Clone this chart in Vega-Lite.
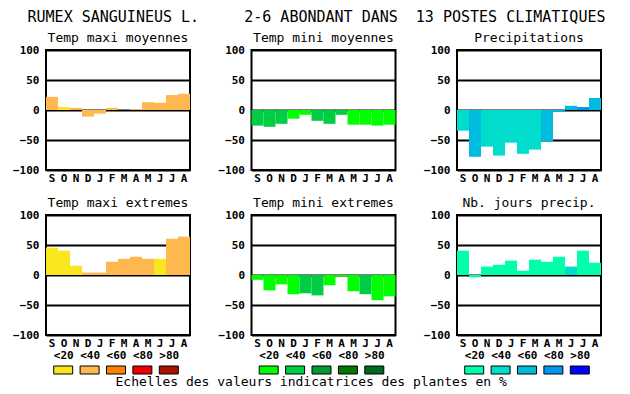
{
  "$schema": "https://vega.github.io/schema/vega-lite/v6.json",
  "padding": {"left": 11, "top": 10, "right": 5, "bottom": 2},
  "background": "white",
  "config": {
    "font": "DejaVu Sans Mono",
    "view": {"stroke": "black", "strokeWidth": 2},
    "axis": {"labelFont": "DejaVu Sans Mono", "labelFontSize": 11, "labelFontWeight": "bold", "labelColor": "black", "ticks": false, "domain": false, "grid": false, "titleFont": "DejaVu Sans Mono", "titleFontWeight": "normal", "titleColor": "black"},
    "axisX": {"labelAngle": 0, "labelPadding": 2},
    "axisY": {"grid": true, "gridColor": "black", "gridWidth": 2, "gridOpacity": 1, "labelPadding": 7, "zindex": 1},
    "title": {"font": "DejaVu Sans Mono", "fontSize": 13, "fontWeight": "normal", "color": "black", "anchor": "middle", "frame": "group", "offset": -1}
  },
  "datasets": {
    "bars": [
      {"p": "p1", "m": "Sep", "v": 22, "c": "T40"}, {"p": "p1", "m": "Oct", "v": 5, "c": "T20"}, {"p": "p1", "m": "Nov", "v": 3.5, "c": "T40"}, {"p": "p1", "m": "Dec", "v": -11, "c": "T40"}, {"p": "p1", "m": "Jan", "v": -6, "c": "T40"}, {"p": "p1", "m": "Feb", "v": 3.5, "c": "T40"}, {"p": "p1", "m": "Mar", "v": 0, "c": "T40"}, {"p": "p1", "m": "Apr", "v": 1.7, "c": "T40"}, {"p": "p1", "m": "May", "v": 13, "c": "T40"}, {"p": "p1", "m": "Jun", "v": 12, "c": "T40"}, {"p": "p1", "m": "Jul", "v": 25, "c": "T40"}, {"p": "p1", "m": "Aug", "v": 27, "c": "T40"},
      {"p": "p2", "m": "Sep", "v": -26, "c": "G40"}, {"p": "p2", "m": "Oct", "v": -28, "c": "G40"}, {"p": "p2", "m": "Nov", "v": -23, "c": "G40"}, {"p": "p2", "m": "Dec", "v": -14.5, "c": "G20"}, {"p": "p2", "m": "Jan", "v": -8, "c": "G20"}, {"p": "p2", "m": "Feb", "v": -18, "c": "G40"}, {"p": "p2", "m": "Mar", "v": -23, "c": "G40"}, {"p": "p2", "m": "Apr", "v": -8, "c": "G40"}, {"p": "p2", "m": "May", "v": -24.5, "c": "G20"}, {"p": "p2", "m": "Jun", "v": -24.5, "c": "G20"}, {"p": "p2", "m": "Jul", "v": -26, "c": "G20"}, {"p": "p2", "m": "Aug", "v": -24.5, "c": "G20"},
      {"p": "p3", "m": "Sep", "v": -34.5, "c": "B40"}, {"p": "p3", "m": "Oct", "v": -78, "c": "B60"}, {"p": "p3", "m": "Nov", "v": -61, "c": "B40"}, {"p": "p3", "m": "Dec", "v": -76, "c": "B40"}, {"p": "p3", "m": "Jan", "v": -54.5, "c": "B40"}, {"p": "p3", "m": "Feb", "v": -73, "c": "B40"}, {"p": "p3", "m": "Mar", "v": -66, "c": "B40"}, {"p": "p3", "m": "Apr", "v": -53, "c": "B60"}, {"p": "p3", "m": "May", "v": -3, "c": "B60"}, {"p": "p3", "m": "Jun", "v": 7, "c": "B60"}, {"p": "p3", "m": "Jul", "v": 5, "c": "B80"}, {"p": "p3", "m": "Aug", "v": 20, "c": "B60"},
      {"p": "p4", "m": "Sep", "v": 45.5, "c": "T20"}, {"p": "p4", "m": "Oct", "v": 40.5, "c": "T20"}, {"p": "p4", "m": "Nov", "v": 15.5, "c": "T20"}, {"p": "p4", "m": "Dec", "v": 4, "c": "T40"}, {"p": "p4", "m": "Jan", "v": 4, "c": "T40"}, {"p": "p4", "m": "Feb", "v": 22, "c": "T40"}, {"p": "p4", "m": "Mar", "v": 27, "c": "T40"}, {"p": "p4", "m": "Apr", "v": 30.5, "c": "T40"}, {"p": "p4", "m": "May", "v": 27, "c": "T40"}, {"p": "p4", "m": "Jun", "v": 27, "c": "T20"}, {"p": "p4", "m": "Jul", "v": 60.5, "c": "T40"}, {"p": "p4", "m": "Aug", "v": 64, "c": "T40"},
      {"p": "p5", "m": "Sep", "v": -8, "c": "G20"}, {"p": "p5", "m": "Oct", "v": -25.5, "c": "G20"}, {"p": "p5", "m": "Nov", "v": -15.5, "c": "G20"}, {"p": "p5", "m": "Dec", "v": -32, "c": "G20"}, {"p": "p5", "m": "Jan", "v": -30.5, "c": "G40"}, {"p": "p5", "m": "Feb", "v": -34, "c": "G40"}, {"p": "p5", "m": "Mar", "v": -17, "c": "G20"}, {"p": "p5", "m": "Apr", "v": -2.5, "c": "G20"}, {"p": "p5", "m": "May", "v": -27, "c": "G20"}, {"p": "p5", "m": "Jun", "v": -32, "c": "G40"}, {"p": "p5", "m": "Jul", "v": -42, "c": "G20"}, {"p": "p5", "m": "Aug", "v": -35.5, "c": "G20"},
      {"p": "p6", "m": "Sep", "v": 40.5, "c": "B20"}, {"p": "p6", "m": "Oct", "v": -4, "c": "B20"}, {"p": "p6", "m": "Nov", "v": 14, "c": "B20"}, {"p": "p6", "m": "Dec", "v": 17, "c": "B20"}, {"p": "p6", "m": "Jan", "v": 24, "c": "B20"}, {"p": "p6", "m": "Feb", "v": 7, "c": "B20"}, {"p": "p6", "m": "Mar", "v": 25.5, "c": "B20"}, {"p": "p6", "m": "Apr", "v": 22, "c": "B20"}, {"p": "p6", "m": "May", "v": 30.5, "c": "B20"}, {"p": "p6", "m": "Jun", "v": 14, "c": "B40"}, {"p": "p6", "m": "Jul", "v": 40.5, "c": "B20"}, {"p": "p6", "m": "Aug", "v": 20.5, "c": "B20"}
    ],
    "leg": [
      {"g": "T", "lab": "<20", "c": "T20"}, {"g": "T", "lab": "<40", "c": "T40"}, {"g": "T", "lab": "<60", "c": "T60"}, {"g": "T", "lab": "<80", "c": "T80"}, {"g": "T", "lab": ">80", "c": "T99"},
      {"g": "G", "lab": "<20", "c": "G20"}, {"g": "G", "lab": "<40", "c": "G40"}, {"g": "G", "lab": "<60", "c": "G60"}, {"g": "G", "lab": "<80", "c": "G80"}, {"g": "G", "lab": ">80", "c": "G99"},
      {"g": "B", "lab": "<20", "c": "B20"}, {"g": "B", "lab": "<40", "c": "B40"}, {"g": "B", "lab": "<60", "c": "B60"}, {"g": "B", "lab": "<80", "c": "B80"}, {"g": "B", "lab": ">80", "c": "B99"}
    ]
  },
  "title": {"text": "Echelles des valeurs indicatrices des plantes en %", "orient": "bottom", "anchor": "start", "frame": "bounds", "dx": 104, "offset": 1, "fontSize": 13, "fontWeight": "normal", "font": "DejaVu Sans Mono", "color": "black"},
  "vconcat": [
    {
      "title": {"text": "RUMEX SANGUINEUS L.\u00a0\u00a0\u00a0\u00a0\u00a02-6 ABONDANT DANS\u00a0\u00a013 POSTES CLIMATIQUES", "anchor": "start", "frame": "bounds", "dx": 16, "offset": 6, "fontSize": 15, "fontWeight": "normal", "font": "DejaVu Sans Mono", "color": "black"},
      "columns": 3,
      "align": "each",
      "spacing": {"row": 0, "column": 25.5},
      "concat": [
        {
          "width": 144, "height": 120, "title": "Temp maxi moyennes",
          "data": {"name": "bars"}, "transform": [{"filter": "datum.p === 'p1'"}],
          "mark": {"type": "bar"},
          "encoding": {
            "x": {"field": "m", "type": "ordinal", "sort": ["Sep","Oct","Nov","Dec","Jan","Feb","Mar","Apr","May","Jun","Jul","Aug"], "scale": {"paddingInner": 0, "paddingOuter": 0}, "axis": {"labelExpr": "substring(datum.label,0,1)", "title": "\u00a0", "titlePadding": 0.5, "titleFontSize": 11}},
            "y": {"field": "v", "type": "quantitative", "scale": {"domain": [-100, 100]}, "axis": {"values": [-100, -50, 0, 50, 100], "title": null}},
            "color": {"field": "c", "type": "nominal", "scale": {"domain": ["T20","T40","T60","T80","T99","G20","G40","G60","G80","G99","B20","B40","B60","B80","B99"], "range": ["#F8E71C","#FFB84D","#FF7F00","#EE0000","#AA1100","#00FF00","#00CC44","#009933","#007700","#006622","#00FFAA","#00DDCC","#00BBDD","#0099EE","#0000FF"]}, "legend": null}
          }
        },
        {
          "width": 144, "height": 120, "title": "Temp mini moyennes",
          "data": {"name": "bars"}, "transform": [{"filter": "datum.p === 'p2'"}],
          "mark": {"type": "bar"},
          "encoding": {
            "x": {"field": "m", "type": "ordinal", "sort": ["Sep","Oct","Nov","Dec","Jan","Feb","Mar","Apr","May","Jun","Jul","Aug"], "scale": {"paddingInner": 0, "paddingOuter": 0}, "axis": {"labelExpr": "substring(datum.label,0,1)", "title": "\u00a0", "titlePadding": 0.5, "titleFontSize": 11}},
            "y": {"field": "v", "type": "quantitative", "scale": {"domain": [-100, 100]}, "axis": {"values": [-100, -50, 0, 50, 100], "title": null}},
            "color": {"field": "c", "type": "nominal", "scale": {"domain": ["T20","T40","T60","T80","T99","G20","G40","G60","G80","G99","B20","B40","B60","B80","B99"], "range": ["#F8E71C","#FFB84D","#FF7F00","#EE0000","#AA1100","#00FF00","#00CC44","#009933","#007700","#006622","#00FFAA","#00DDCC","#00BBDD","#0099EE","#0000FF"]}, "legend": null}
          }
        },
        {
          "width": 144, "height": 120, "title": "Precipitations",
          "data": {"name": "bars"}, "transform": [{"filter": "datum.p === 'p3'"}],
          "mark": {"type": "bar"},
          "encoding": {
            "x": {"field": "m", "type": "ordinal", "sort": ["Sep","Oct","Nov","Dec","Jan","Feb","Mar","Apr","May","Jun","Jul","Aug"], "scale": {"paddingInner": 0, "paddingOuter": 0}, "axis": {"labelExpr": "substring(datum.label,0,1)", "title": "\u00a0", "titlePadding": 0.5, "titleFontSize": 11}},
            "y": {"field": "v", "type": "quantitative", "scale": {"domain": [-100, 100]}, "axis": {"values": [-100, -50, 0, 50, 100], "title": null}},
            "color": {"field": "c", "type": "nominal", "scale": {"domain": ["T20","T40","T60","T80","T99","G20","G40","G60","G80","G99","B20","B40","B60","B80","B99"], "range": ["#F8E71C","#FFB84D","#FF7F00","#EE0000","#AA1100","#00FF00","#00CC44","#009933","#007700","#006622","#00FFAA","#00DDCC","#00BBDD","#0099EE","#0000FF"]}, "legend": null}
          }
        },
        {
          "width": 144, "height": 120, "title": "Temp maxi extremes",
          "data": {"name": "bars"}, "transform": [{"filter": "datum.p === 'p4'"}],
          "mark": {"type": "bar"},
          "encoding": {
            "x": {"field": "m", "type": "ordinal", "sort": ["Sep","Oct","Nov","Dec","Jan","Feb","Mar","Apr","May","Jun","Jul","Aug"], "scale": {"paddingInner": 0, "paddingOuter": 0}, "axis": {"labelExpr": "substring(datum.label,0,1)", "title": null}},
            "y": {"field": "v", "type": "quantitative", "scale": {"domain": [-100, 100]}, "axis": {"values": [-100, -50, 0, 50, 100], "title": null}},
            "color": {"field": "c", "type": "nominal", "scale": {"domain": ["T20","T40","T60","T80","T99","G20","G40","G60","G80","G99","B20","B40","B60","B80","B99"], "range": ["#F8E71C","#FFB84D","#FF7F00","#EE0000","#AA1100","#00FF00","#00CC44","#009933","#007700","#006622","#00FFAA","#00DDCC","#00BBDD","#0099EE","#0000FF"]}, "legend": null}
          }
        },
        {
          "width": 144, "height": 120, "title": "Temp mini extremes",
          "data": {"name": "bars"}, "transform": [{"filter": "datum.p === 'p5'"}],
          "mark": {"type": "bar"},
          "encoding": {
            "x": {"field": "m", "type": "ordinal", "sort": ["Sep","Oct","Nov","Dec","Jan","Feb","Mar","Apr","May","Jun","Jul","Aug"], "scale": {"paddingInner": 0, "paddingOuter": 0}, "axis": {"labelExpr": "substring(datum.label,0,1)", "title": null}},
            "y": {"field": "v", "type": "quantitative", "scale": {"domain": [-100, 100]}, "axis": {"values": [-100, -50, 0, 50, 100], "title": null}},
            "color": {"field": "c", "type": "nominal", "scale": {"domain": ["T20","T40","T60","T80","T99","G20","G40","G60","G80","G99","B20","B40","B60","B80","B99"], "range": ["#F8E71C","#FFB84D","#FF7F00","#EE0000","#AA1100","#00FF00","#00CC44","#009933","#007700","#006622","#00FFAA","#00DDCC","#00BBDD","#0099EE","#0000FF"]}, "legend": null}
          }
        },
        {
          "width": 144, "height": 120, "title": "Nb. jours precip.",
          "data": {"name": "bars"}, "transform": [{"filter": "datum.p === 'p6'"}],
          "mark": {"type": "bar"},
          "encoding": {
            "x": {"field": "m", "type": "ordinal", "sort": ["Sep","Oct","Nov","Dec","Jan","Feb","Mar","Apr","May","Jun","Jul","Aug"], "scale": {"paddingInner": 0, "paddingOuter": 0}, "axis": {"labelExpr": "substring(datum.label,0,1)", "title": null}},
            "y": {"field": "v", "type": "quantitative", "scale": {"domain": [-100, 100]}, "axis": {"values": [-100, -50, 0, 50, 100], "title": null}},
            "color": {"field": "c", "type": "nominal", "scale": {"domain": ["T20","T40","T60","T80","T99","G20","G40","G60","G80","G99","B20","B40","B60","B80","B99"], "range": ["#F8E71C","#FFB84D","#FF7F00","#EE0000","#AA1100","#00FF00","#00CC44","#009933","#007700","#006622","#00FFAA","#00DDCC","#00BBDD","#0099EE","#0000FF"]}, "legend": null}
          }
        },
        {
          "width": 144, "height": 8, "view": {"stroke": null},
          "data": {"name": "leg"}, "transform": [{"filter": "datum.g === 'T'"}],
          "mark": {"type": "bar", "width": 19, "stroke": "black", "strokeWidth": 1},
          "encoding": {
            "x": {"field": "lab", "type": "nominal", "sort": ["<20","<40","<60","<80",">80"], "scale": {"type": "point", "range": [4, 136]}, "axis": {"orient": "top", "title": null, "labelPadding": 6}},
            "color": {"field": "c", "type": "nominal", "scale": {"domain": ["T20","T40","T60","T80","T99","G20","G40","G60","G80","G99","B20","B40","B60","B80","B99"], "range": ["#F8E71C","#FFB84D","#FF7F00","#EE0000","#AA1100","#00FF00","#00CC44","#009933","#007700","#006622","#00FFAA","#00DDCC","#00BBDD","#0099EE","#0000FF"]}, "legend": null}
          }
        },
        {
          "width": 144, "height": 8, "view": {"stroke": null},
          "data": {"name": "leg"}, "transform": [{"filter": "datum.g === 'G'"}],
          "mark": {"type": "bar", "width": 19, "stroke": "black", "strokeWidth": 1},
          "encoding": {
            "x": {"field": "lab", "type": "nominal", "sort": ["<20","<40","<60","<80",">80"], "scale": {"type": "point", "range": [4, 136]}, "axis": {"orient": "top", "title": null, "labelPadding": 6}},
            "color": {"field": "c", "type": "nominal", "scale": {"domain": ["T20","T40","T60","T80","T99","G20","G40","G60","G80","G99","B20","B40","B60","B80","B99"], "range": ["#F8E71C","#FFB84D","#FF7F00","#EE0000","#AA1100","#00FF00","#00CC44","#009933","#007700","#006622","#00FFAA","#00DDCC","#00BBDD","#0099EE","#0000FF"]}, "legend": null}
          }
        },
        {
          "width": 144, "height": 8, "view": {"stroke": null},
          "data": {"name": "leg"}, "transform": [{"filter": "datum.g === 'B'"}],
          "mark": {"type": "bar", "width": 19, "stroke": "black", "strokeWidth": 1},
          "encoding": {
            "x": {"field": "lab", "type": "nominal", "sort": ["<20","<40","<60","<80",">80"], "scale": {"type": "point", "range": [4, 136]}, "axis": {"orient": "top", "title": null, "labelPadding": 6}},
            "color": {"field": "c", "type": "nominal", "scale": {"domain": ["T20","T40","T60","T80","T99","G20","G40","G60","G80","G99","B20","B40","B60","B80","B99"], "range": ["#F8E71C","#FFB84D","#FF7F00","#EE0000","#AA1100","#00FF00","#00CC44","#009933","#007700","#006622","#00FFAA","#00DDCC","#00BBDD","#0099EE","#0000FF"]}, "legend": null}
          }
        }
      ]
    }
  ]
}
